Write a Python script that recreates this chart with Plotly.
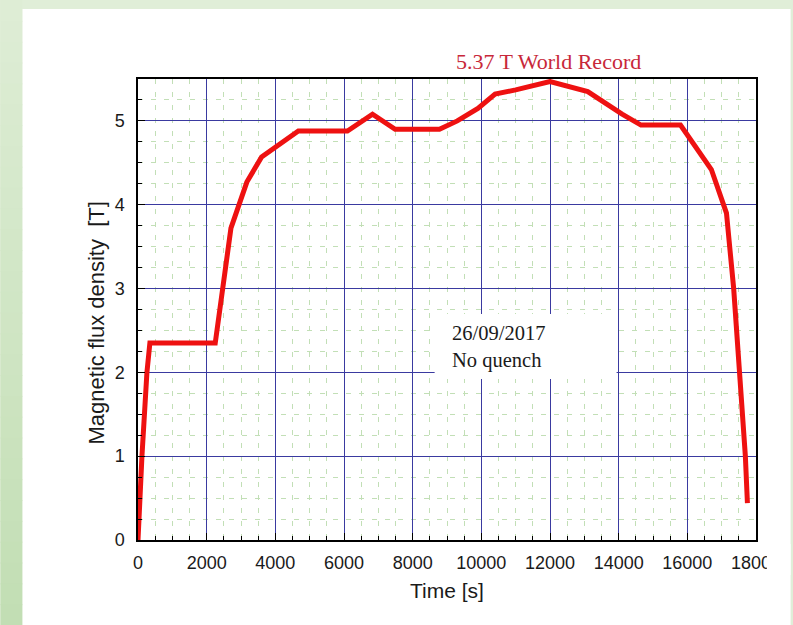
import plotly.graph_objects as go

# ---- data ----
time_s = [0, 40, 115, 260, 346, 2250, 2707, 3170, 3600, 4670, 6100, 6830, 7490,
          8780, 9300, 9900, 10400, 11000, 12000, 13100, 14100, 14650, 15800,
          16700, 17140, 17350, 17500, 17600, 17690, 17750]
field_T = [0, 0.5, 1.0, 2.0, 2.35, 2.35, 3.72, 4.27, 4.57, 4.88, 4.88, 5.08, 4.9,
           4.9, 5.0, 5.15, 5.32, 5.37, 5.47, 5.35, 5.08, 4.95, 4.95,
           4.42, 3.9, 3.0, 2.2, 1.65, 1.0, 0.44]
x_ticks = [0, 2000, 4000, 6000, 8000, 10000, 12000, 14000, 16000, 18000]
y_ticks = [0, 1, 2, 3, 4, 5]

title_text = "5.37 T World Record"
note_text = "26/09/2017<br>No quench"
x_title = "Time [s]"
y_title = "Magnetic flux density  [T]"

W, H = 793, 625
L, R, T, B = 138, 30, 79, 85
pw, ph = W - L - R, H - T - B

def px(xp):
    return (xp - L) / pw

def py(yp):
    return (H - B - yp) / ph

fig = go.Figure()
fig.add_trace(go.Scatter(x=time_s, y=field_T, mode="lines",
                         line=dict(color="#ee1111", width=5),
                         showlegend=False, hoverinfo="skip"))

shapes = []
# white slide panel
shapes.append(dict(type="rect", xref="paper", yref="paper", layer="below",
                   x0=px(21), x1=px(W + 5), y0=py(9), y1=py(H + 5),
                   fillcolor="white", line=dict(width=0)))
# left green gradient strip
n = 30
top = (222, 237, 213)
bot = (194, 222, 180)
for i in range(n):
    t = i / (n - 1)
    c = tuple(int(round(top[k] + (bot[k] - top[k]) * t)) for k in range(3))
    y0p = i * H / n
    y1p = (i + 1) * H / n + 1
    shapes.append(dict(type="rect", xref="paper", yref="paper", layer="below",
                       x0=px(-1), x1=px(21), y0=py(y0p), y1=py(y1p),
                       fillcolor="rgb(%d,%d,%d)" % c, line=dict(width=0)))
# white box behind the note
shapes.append(dict(type="rect", xref="paper", yref="paper", layer="above",
                   x0=px(438), x1=px(622), y0=py(379), y1=py(314),
                   fillcolor="white", line=dict(width=0)))
# cover the clipped last digit of the final x tick label
shapes.append(dict(type="rect", xref="paper", yref="paper", layer="above",
                   x0=px(774), x1=px(W + 5), y0=py(544), y1=py(575),
                   fillcolor="white", line=dict(width=0)))

annotations = [
    dict(text=title_text, xref="paper", yref="paper", x=px(553), y=py(61),
         xanchor="center", yanchor="middle", showarrow=False,
         font=dict(family="Liberation Serif", size=22, color="#c8283a")),
    dict(text=note_text, xref="paper", yref="paper", x=px(454), y=py(347),
         xanchor="left", yanchor="middle", align="left", showarrow=False,
         font=dict(family="Liberation Serif", size=20.5, color="#1a1a1a")),
    dict(text=x_title, xref="paper", yref="paper", x=px(450), y=py(590),
         xanchor="center", yanchor="middle", showarrow=False,
         font=dict(family="Liberation Sans", size=21, color="#1a1a1a")),
    dict(text=y_title, xref="paper", yref="paper", x=px(96), y=py(323),
         xanchor="center", yanchor="middle", showarrow=False, textangle=-90,
         font=dict(family="Liberation Sans", size=22, color="#1a1a1a")),
]

axis_common = dict(
    showline=True, linecolor="black", linewidth=1.5, mirror=True,
    ticks="inside", tickcolor="black", ticklen=7, tickwidth=1.2,
    showgrid=True, gridcolor="#3a3aa0", gridwidth=1,
    zeroline=False,
    tickfont=dict(family="Liberation Sans", size=18, color="#1a1a1a"),
)

fig.update_layout(
    width=W, height=H,
    margin=dict(l=L, r=R, t=T, b=B),
    paper_bgcolor="rgb(224,238,216)",
    plot_bgcolor="white",
    shapes=shapes,
    annotations=annotations,
    xaxis=dict(range=[0, 18000], tickvals=x_ticks,
               ticktext=[str(v) for v in x_ticks], ticklabelstandoff=6,
               minor=dict(dtick=500, ticks="inside", ticklen=4, tickcolor="black",
                          showgrid=True, gridcolor="#c2dfb6", griddash="5px,8px",
                          gridwidth=1),
               **axis_common),
    yaxis=dict(range=[0, 5.5], tickvals=y_ticks,
               ticktext=[str(v) for v in y_ticks], ticklabelstandoff=8,
               minor=dict(dtick=0.25, ticks="inside", ticklen=4, tickcolor="black",
                          showgrid=True, gridcolor="#c2dfb6", griddash="5px,8px",
                          gridwidth=1),
               **axis_common),
)

fig.write_html("out.html")
